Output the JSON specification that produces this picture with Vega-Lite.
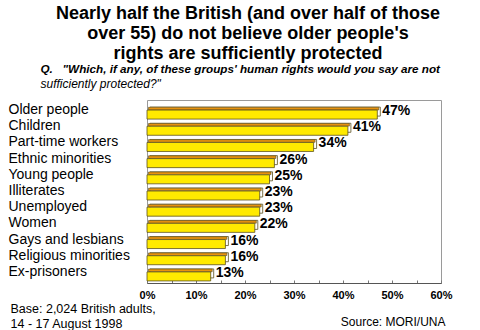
{
  "$schema": "https://vega.github.io/schema/vega-lite/v6.json",
  "autosize": {"type": "none"},
  "width": 294,
  "height": 183,
  "padding": {"left": 147, "top": 100, "right": 39, "bottom": 47},
  "background": "white",
  "config": {
    "font": "Liberation Sans",
    "view": {"stroke": "#9a9a9a", "strokeWidth": 1}
  },
  "title": {
    "text": ["Nearly half the British (and over half of those", "over 55) do not believe older people's ", "rights are sufficiently protected"],
    "font": "Liberation Sans",
    "fontSize": 18,
    "fontWeight": "bold",
    "color": "black",
    "lineHeight": 20,
    "anchor": "middle",
    "frame": "group",
    "dx": -46,
    "offset": 1
  },
  "data": {
    "values": [
      {"group": "Older people", "pct": 0.47},
      {"group": "Children", "pct": 0.41},
      {"group": "Part-time workers", "pct": 0.34},
      {"group": "Ethnic minorities", "pct": 0.26},
      {"group": "Young people", "pct": 0.25},
      {"group": "Illiterates", "pct": 0.23},
      {"group": "Unemployed", "pct": 0.23},
      {"group": "Women", "pct": 0.22},
      {"group": "Gays and lesbians", "pct": 0.16},
      {"group": "Religious minorities", "pct": 0.16},
      {"group": "Ex-prisoners", "pct": 0.13}
    ]
  },
  "resolve": {"axis": {"x": "independent", "y": "independent"}},
  "layer": [
    {
      "mark": {"type": "bar", "size": 9, "xOffset": 3, "x2Offset": 3, "yOffset": -1.5, "fill": "white", "stroke": "#5c5020", "strokeWidth": 0.8},
      "encoding": {
        "y": {
          "field": "group", "type": "nominal", "sort": null,
          "scale": {"range": [5, 183]},
          "axis": {
            "title": "Q.\u00a0\u00a0\u00a0\"Which, if any, of these groups' human rights would you say are not",
            "titleFont": "Liberation Sans", "titleFontSize": 11.7, "titleFontWeight": "bold", "titleFontStyle": "italic",
            "titleAngle": 0, "titleAlign": "left", "titleBaseline": "alphabetic", "titleX": -107, "titleY": -27.5, "titleColor": "black",
            "ticks": false, "domain": false,
            "labelAlign": "left", "labelPadding": 139, "labelFontSize": 14, "labelColor": "black", "labelOffset": -3, "labelFont": "Liberation Sans"
          }
        },
        "x": {
          "field": "pct", "type": "quantitative",
          "scale": {"domain": [0, 0.6], "nice": false},
          "axis": {
            "values": [0, 0.05, 0.1, 0.15, 0.2, 0.25, 0.3, 0.35, 0.4, 0.45, 0.5, 0.55, 0.6],
            "labelExpr": "round(datum.value*100) % 10 == 0 ? format(datum.value, '.0%') : ''",
            "labelFlush": false,
            "grid": false, "ticks": true, "tickSize": -3, "tickColor": "#777",
            "domainColor": "#555", "labelPadding": 9,
            "labelFontSize": 11, "labelFontWeight": "bold", "labelColor": "black", "labelFont": "Liberation Sans",
            "title": "Source: MORI/UNA", "titleFontSize": 12, "titleFontWeight": "normal", "titleColor": "black",
            "titleAlign": "right", "titleBaseline": "alphabetic", "titleX": 298, "titleY": 42, "titleFont": "Liberation Sans"
          }
        }
      }
    },
    {
      "mark": {"type": "bar", "size": 2.6, "xOffset": 1.5, "x2Offset": 1.5, "yOffset": -4.5, "fill": "#E8920E", "stroke": "#5c5020", "strokeWidth": 0.6},
      "encoding": {
        "y": {
          "field": "group", "type": "nominal", "sort": null,
          "axis": {
            "orient": "right", "labels": false, "ticks": false, "domain": false,
            "title": "sufficiently protected?\"",
            "titleFont": "Liberation Sans", "titleFontSize": 12, "titleFontWeight": "normal", "titleFontStyle": "italic",
            "titleAngle": 0, "titleAlign": "left", "titleBaseline": "alphabetic", "titleX": -401, "titleY": -12.5, "titleColor": "black"
          }
        },
        "x": {
          "field": "pct", "type": "quantitative",
          "axis": {
            "orient": "top", "labels": false, "ticks": false, "domain": false, "grid": false,
            "title": ["Base: 2,024 British adults,", "14 - 17 August 1998"],
            "titleFont": "Liberation Sans", "titleFontSize": 12.5, "titleFontWeight": "normal", "titleColor": "black",
            "titleAlign": "left", "titleBaseline": "alphabetic", "titleLineHeight": 15.5, "titleX": -137, "titleY": 212
          }
        }
      }
    },
    {
      "mark": {"type": "bar", "size": 9, "yOffset": 1.5, "fill": "#FFEA00", "stroke": "#5c5020", "strokeWidth": 0.8},
      "encoding": {
        "y": {"field": "group", "type": "nominal", "sort": null, "axis": null},
        "x": {"field": "pct", "type": "quantitative", "axis": null}
      }
    },
    {
      "mark": {"type": "text", "align": "left", "baseline": "middle", "dx": 5, "dy": -2, "fontSize": 14, "fontWeight": "bold", "color": "black", "font": "Liberation Sans"},
      "encoding": {
        "y": {"field": "group", "type": "nominal", "sort": null, "axis": null},
        "x": {"field": "pct", "type": "quantitative", "axis": null},
        "text": {"field": "pct", "type": "quantitative", "format": ".0%"}
      }
    }
  ]
}
